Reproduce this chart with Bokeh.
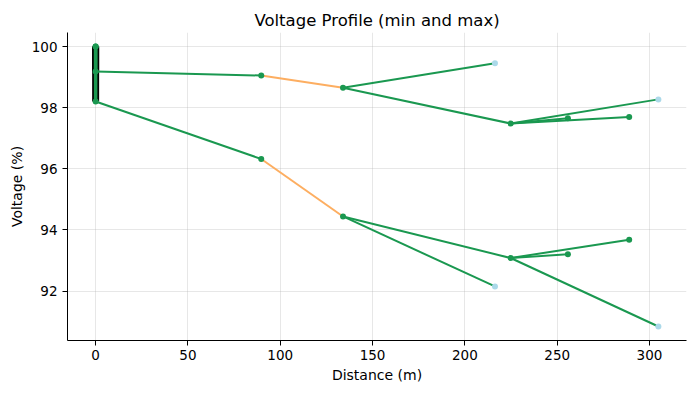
from bokeh.plotting import figure
from bokeh.models import Range1d, FixedTicker, ColumnDataSource
from bokeh.embed import file_html
from bokeh.resources import INLINE

# ---- data ----
bus_distance = [0.0, 0.0, 89.7, 134.0, 216.3, 224.8, 255.8, 289.0, 304.8]
v_max = [100.0, 99.18, 99.05, 98.65, 99.45, 97.48, 97.65, 97.69, 98.27]
v_min = [100.0, 98.20, 96.32, 94.44, 92.15, 93.08, 93.20, 93.68, 90.84]
bus_color = ["#1a9850", "#1a9850", "#1a9850", "#1a9850", "#abd9e9",
             "#1a9850", "#1a9850", "#1a9850", "#abd9e9"]
trafo_from = [0]
trafo_to = [1]
line_from = [1, 2, 3, 3, 5, 5, 5]
line_to = [2, 3, 4, 5, 6, 7, 8]
line_color = ["#1a9850", "#fdae61", "#1a9850", "#1a9850", "#1a9850", "#1a9850", "#1a9850"]
x_ticks = [0, 50, 100, 150, 200, 250, 300]
y_ticks = [92, 94, 96, 98, 100]

FONT = "DejaVu Sans"

xmin, xmax = min(bus_distance), max(bus_distance)
allv = v_max + v_min
ymin, ymax = min(allv), max(allv)
mx = 0.05 * (xmax - xmin)
my = 0.05 * (ymax - ymin)

p = figure(width=695, height=393, output_backend="svg", toolbar_location=None,
           x_range=Range1d(xmin - mx, xmax + mx), y_range=Range1d(ymin - my, ymax + my),
           min_border_left=67, min_border_right=9, min_border_top=32, min_border_bottom=53,
           title="Voltage Profile (min and max)")
p.outline_line_color = None
p.background_fill_color = "white"
p.border_fill_color = "white"

p.title.text_font = FONT
p.title.text_font_size = "16.5px"
p.title.text_font_style = "normal"
p.title.align = "center"
p.title.text_color = "black"
p.title.standoff = 6

p.xaxis.ticker = FixedTicker(ticks=x_ticks)
p.yaxis.ticker = FixedTicker(ticks=y_ticks)
p.xaxis.axis_label = "Distance (m)"
p.yaxis.axis_label = "Voltage (%)"
for ax in (p.xaxis, p.yaxis):
    ax.axis_label_text_font = FONT
    ax.axis_label_text_font_size = "14px"
    ax.axis_label_text_font_style = "normal"
    ax.axis_label_text_color = "black"
    ax.major_label_text_font = FONT
    ax.major_label_text_font_size = "13.5px"
    ax.major_label_text_color = "black"
    ax.major_tick_in = 0
    ax.major_tick_out = 5
    ax.minor_tick_in = 0
    ax.minor_tick_out = 0
    ax.axis_line_color = "black"
    ax.major_tick_line_color = "black"
p.xaxis.major_label_standoff = 4
p.xaxis.axis_label_standoff = 4
p.yaxis.major_label_standoff = 5
p.yaxis.axis_label_standoff = 4

p.grid.grid_line_color = "#b0b0b0"
p.grid.grid_line_alpha = 0.3
p.grid.grid_line_width = 1

for v in (v_max, v_min):
    # transformers (black, thick)
    p.multi_line(xs=[[bus_distance[f], bus_distance[t]] for f, t in zip(trafo_from, trafo_to)],
                 ys=[[v[f], v[t]] for f, t in zip(trafo_from, trafo_to)],
                 line_color="black", line_width=7)
for v in (v_max, v_min):
    p.multi_line(xs=[[bus_distance[f], bus_distance[t]] for f, t in zip(trafo_from, trafo_to)],
                 ys=[[v[f], v[t]] for f, t in zip(trafo_from, trafo_to)],
                 line_color="#1a9850", line_width=3.5)

for v in (v_max, v_min):
    src = ColumnDataSource(dict(
        xs=[[bus_distance[f], bus_distance[t]] for f, t in zip(line_from, line_to)],
        ys=[[v[f], v[t]] for f, t in zip(line_from, line_to)],
        c=line_color))
    p.multi_line(xs="xs", ys="ys", line_color="c", line_width=2, source=src)

for v in (v_max, v_min):
    src = ColumnDataSource(dict(x=bus_distance, y=v, c=bus_color))
    p.scatter(x="x", y="y", size=6, fill_color="c", line_color="c", line_width=0, source=src)

open("out.html", "w").write(file_html(p, INLINE))
